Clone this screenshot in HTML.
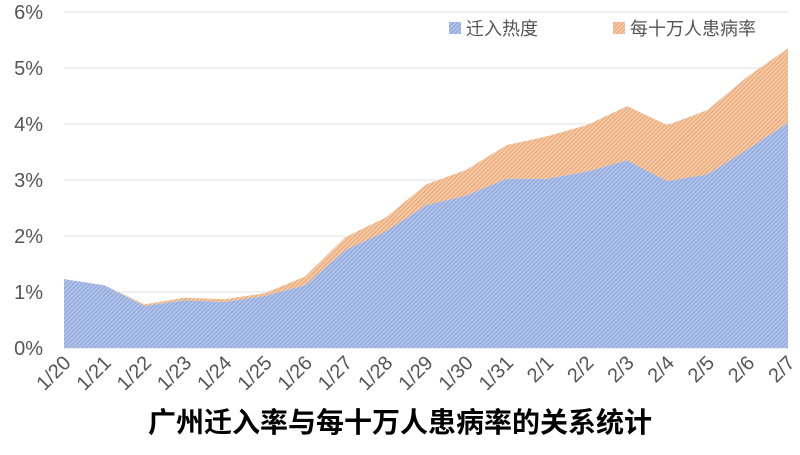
<!DOCTYPE html>
<html><head><meta charset="utf-8"><style>
body{margin:0;background:#fff;}
svg text{font-family:"Liberation Sans","Noto Sans CJK SC",sans-serif;}
</style></head><body>
<svg width="800" height="450">
<defs>
<pattern id="hb" width="3" height="3" patternUnits="userSpaceOnUse" patternTransform="rotate(45)"><rect width="3" height="3" fill="#b3c4ea"/><rect width="1.2" height="3" fill="#8ea6dc"/></pattern>
<pattern id="ho" width="3" height="3" patternUnits="userSpaceOnUse" patternTransform="rotate(45)"><rect width="3" height="3" fill="#f5cba7"/><rect width="1.2" height="3" fill="#eaa878"/></pattern>
</defs>
<g id="grid"></g><g id="areas"></g><g id="xl"></g>
<g>
<rect x="449" y="22" width="12" height="12" fill="url(#hb)"/>
<text x="466" y="35" font-size="18" fill="#555">迁入热度</text>
<rect x="613" y="22" width="12" height="12" fill="url(#ho)"/>
<text x="630" y="35" font-size="18" fill="#555">每十万人患病率</text>
</g>
<text x="400" y="432" text-anchor="middle" font-size="28" font-weight="bold" fill="#000">广州迁入率与每十万人患病率的关系统计</text>
</svg>
<script>
const categories=["1/20","1/21","1/22","1/23","1/24","1/25","1/26","1/27","1/28","1/29","1/30","1/31","2/1","2/2","2/3","2/4","2/5","2/6","2/7"];
const migration=[1.23,1.12,0.75,0.85,0.82,0.93,1.12,1.75,2.08,2.55,2.72,3.02,3.02,3.15,3.35,2.98,3.1,3.55,4.02];
const cases=[0,0,0.03,0.05,0.05,0.05,0.16,0.23,0.25,0.37,0.46,0.6,0.76,0.83,0.97,1.0,1.15,1.3,1.33];
const yTicks=["0%","1%","2%","3%","4%","5%","6%"];
const NS="http://www.w3.org/2000/svg";
const x0=64,x1=788,y0=348,yTop=12;
const X=i=>x0+i*(x1-x0)/(categories.length-1);
const Y=v=>y0-v*(y0-yTop)/6;
const g=document.getElementById('grid');
yTicks.forEach((t,i)=>{
 const l=document.createElementNS(NS,'line');
 l.setAttribute('x1',x0);l.setAttribute('x2',x1);l.setAttribute('y1',Y(i));l.setAttribute('y2',Y(i));
 l.setAttribute('stroke','#e2e2e2');
 
 
 g.appendChild(l);
 const tx=document.createElementNS(NS,'text');
 tx.setAttribute('x',43);tx.setAttribute('y',Y(i)+7);tx.setAttribute('text-anchor','end');
 tx.setAttribute('font-size','20');tx.setAttribute('fill','#555');tx.textContent=t;
 
 
 g.appendChild(tx);
});
const a=document.getElementById('areas');
const tot=migration.map((v,i)=>v+cases[i]);
function area(top,bot,fill,name){
 let d='M'+top.map((v,i)=>X(i)+','+Y(v)).join('L');
 for(let i=bot.length-1;i>=0;i--)d+='L'+X(i)+','+Y(bot[i]);
 const p=document.createElementNS(NS,'path');
 p.setAttribute('d',d+'Z');p.setAttribute('fill',fill);
 
 
 a.appendChild(p);
}
area(tot,migration,'url(#ho)','area-cases');
area(migration,migration.map(()=>0),'url(#hb)','area-migration');
const xl=document.getElementById('xl');
categories.forEach((c,i)=>{
 const t=document.createElementNS(NS,'text');
 const px=X(i)+8,py=364;
 t.setAttribute('x',px);t.setAttribute('y',py);t.setAttribute('text-anchor','end');
 t.setAttribute('font-size','20');t.setAttribute('fill','#555');
 t.setAttribute('transform','rotate(-45 '+px+' '+py+')');
 t.textContent=c;
 
 
 xl.appendChild(t);
});
</script>
</body></html>
